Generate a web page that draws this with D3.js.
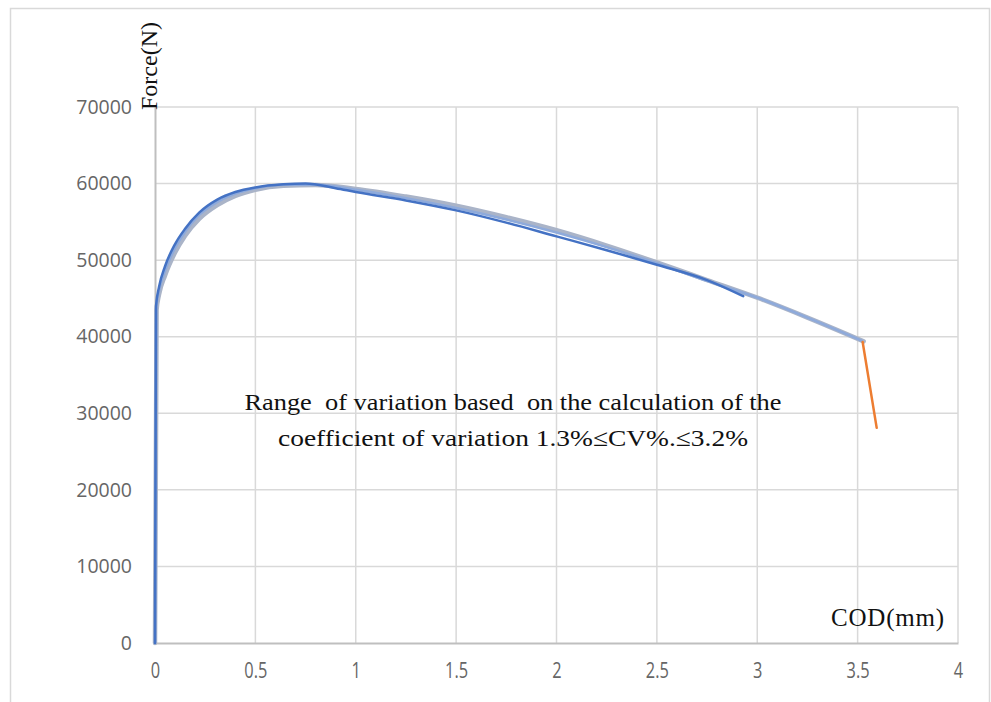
<!DOCTYPE html>
<html>
<head>
<meta charset="utf-8">
<script src="https://cdn.jsdelivr.net/npm/d3@7"></script>
<style>
  body { margin: 0; background: #fff; }
  svg { display: block; }
</style>
</head>
<body>
<script>
// COD (mm) / Force (N)
const grayCod    = [0, 0.008, 0.02, 0.05, 0.1, 0.15, 0.22, 0.31, 0.4, 0.5, 0.64, 0.8, 1.0, 1.25, 1.5, 1.75, 2.0, 2.25, 2.5, 2.75, 3.0, 3.25, 3.53];
const grayForce  = [0, 43500, 45500, 48000, 51000, 53200, 55400, 57200, 58400, 59200, 59700, 59800, 59300, 58300, 57100, 55600, 53900, 51900, 49700, 47400, 45100, 42500, 39400];
const lightCod   = [0, 0.006, 0.02, 0.05, 0.1, 0.15, 0.22, 0.31, 0.4, 0.5, 0.64, 0.8, 1.0, 1.25, 1.5, 1.75, 2.0, 2.25, 2.5, 2.75, 3.0, 3.25, 3.52];
const lightForce = [0, 43800, 46000, 48600, 51600, 53700, 55900, 57600, 58700, 59400, 59850, 59850, 59200, 58100, 56800, 55300, 53600, 51700, 49600, 47300, 45100, 42500, 39500];
const blueCod    = [0, 0.005, 0.02, 0.05, 0.1, 0.15, 0.22, 0.31, 0.4, 0.5, 0.64, 0.75, 0.9, 1.0, 1.25, 1.5, 1.75, 2.0, 2.25, 2.5, 2.75, 2.93];
const blueForce  = [0, 44000, 46500, 49200, 52100, 54100, 56200, 57900, 58900, 59500, 59900, 60000, 59400, 58900, 57800, 56500, 54900, 53100, 51300, 49400, 47400, 45300];
const dropCod    = [3.525, 3.595];
const dropForce  = [39300, 28100];

const xTicks = [0, 0.5, 1, 1.5, 2, 2.5, 3, 3.5, 4];
const yTicks = [0, 10000, 20000, 30000, 40000, 50000, 60000, 70000];
const noteLines = [
  "Range\u00a0\u00a0of variation based\u00a0 on the calculation of the",
  "coefficient of variation 1.3%\u2264CV%.\u22643.2%"
];
const noteWidths = [537, 470];

const width = 991, height = 702;
const plot = { left: 155, right: 958, top: 107, bottom: 643 };

const svg = d3.select("body").append("svg")
  .attr("width", width)
  .attr("height", height);

// outer frame
svg.append("rect")
  .attr("x", 10.5).attr("y", 8.5)
  .attr("width", 979).attr("height", 720)
  .attr("fill", "none")
  .attr("stroke", "#d9d9d9")
  .attr("stroke-width", 1.5);

const x = d3.scaleLinear([0, 4], [plot.left, plot.right]);
const y = d3.scaleLinear([0, 70000], [plot.bottom, plot.top]);

// grid
svg.append("g")
  .selectAll("line")
  .data(yTicks.filter(d => d > 0))
  .join("line")
  .attr("x1", plot.left).attr("x2", plot.right)
  .attr("y1", d => y(d)).attr("y2", d => y(d))
  .attr("stroke", "#d9d9d9").attr("stroke-width", 1.5);

svg.append("g")
  .selectAll("line")
  .data(xTicks.filter(d => d > 0))
  .join("line")
  .attr("x1", d => x(d)).attr("x2", d => x(d))
  .attr("y1", plot.top).attr("y2", plot.bottom)
  .attr("stroke", "#d9d9d9").attr("stroke-width", 1.5);

// axes
const xAxis = d3.axisBottom(x).tickValues(xTicks).tickSize(0).tickPadding(20)
  .tickFormat(d => String(d));
const yAxis = d3.axisLeft(y).tickValues(yTicks).tickSize(0).tickPadding(23)
  .tickFormat(d => String(d));

svg.append("g")
  .attr("transform", `translate(0,${plot.bottom})`)
  .call(xAxis)
  .call(g => g.select(".domain").attr("stroke", "#bfbfbf").attr("stroke-width", 2))
  .call(g => g.selectAll("text")
    .attr("fill", "#666")
    .attr("font-family", "'Open Sans', sans-serif")
    .attr("font-size", 21)
    .attr("transform", "scale(0.78,1)"));

svg.append("g")
  .attr("transform", `translate(${plot.left},0)`)
  .call(yAxis)
  .call(g => g.select(".domain").attr("stroke", "#bfbfbf").attr("stroke-width", 2))
  .call(g => g.selectAll("text")
    .attr("fill", "#666")
    .attr("font-family", "'Open Sans', sans-serif")
    .attr("font-size", 19.5));

// curves
const line = d3.line()
  .x(d => x(d[0]))
  .y(d => y(d[1]))
  .curve(d3.curveMonotoneX);

const series = [
  { cod: grayCod, force: grayForce, color: "#aab4c8", width: 4.5 },
  { cod: lightCod, force: lightForce, color: "#8eaadb", width: 2.5 },
  { cod: blueCod, force: blueForce, color: "#4472c4", width: 2.5 },
  { cod: dropCod, force: dropForce, color: "#ed7d31", width: 2.5 }
];

svg.append("g")
  .selectAll("path")
  .data(series)
  .join("path")
  .attr("fill", "none")
  .attr("stroke", d => d.color)
  .attr("stroke-width", d => d.width)
  .attr("stroke-linecap", "round")
  .attr("stroke-linejoin", "round")
  .attr("d", d => line(d3.zip(d.cod, d.force)));

// titles
const serif = "'Liberation Serif', 'DejaVu Serif', serif";
svg.append("text")
  .attr("transform", "translate(157,66) rotate(-90)")
  .attr("text-anchor", "middle")
  .attr("font-family", serif)
  .attr("font-size", 24)
  .attr("fill", "#111")
  .text("Force(N)");

svg.append("text")
  .attr("x", 944).attr("y", 626)
  .attr("text-anchor", "end")
  .attr("font-family", serif)
  .attr("font-size", 25)
  .attr("textLength", 113)
  .attr("fill", "#111")
  .text("COD(mm)");

svg.append("g")
  .selectAll("text")
  .data(noteLines)
  .join("text")
  .attr("x", (d, i) => 513 - noteWidths[i] / 2)
  .attr("y", (d, i) => 410 + i * 36)
  .attr("font-family", serif)
  .attr("font-size", 24)
  .attr("textLength", (d, i) => noteWidths[i])
  .attr("lengthAdjust", "spacingAndGlyphs")
  .attr("fill", "#111")
  .text(d => d);
</script>
</body>
</html>
